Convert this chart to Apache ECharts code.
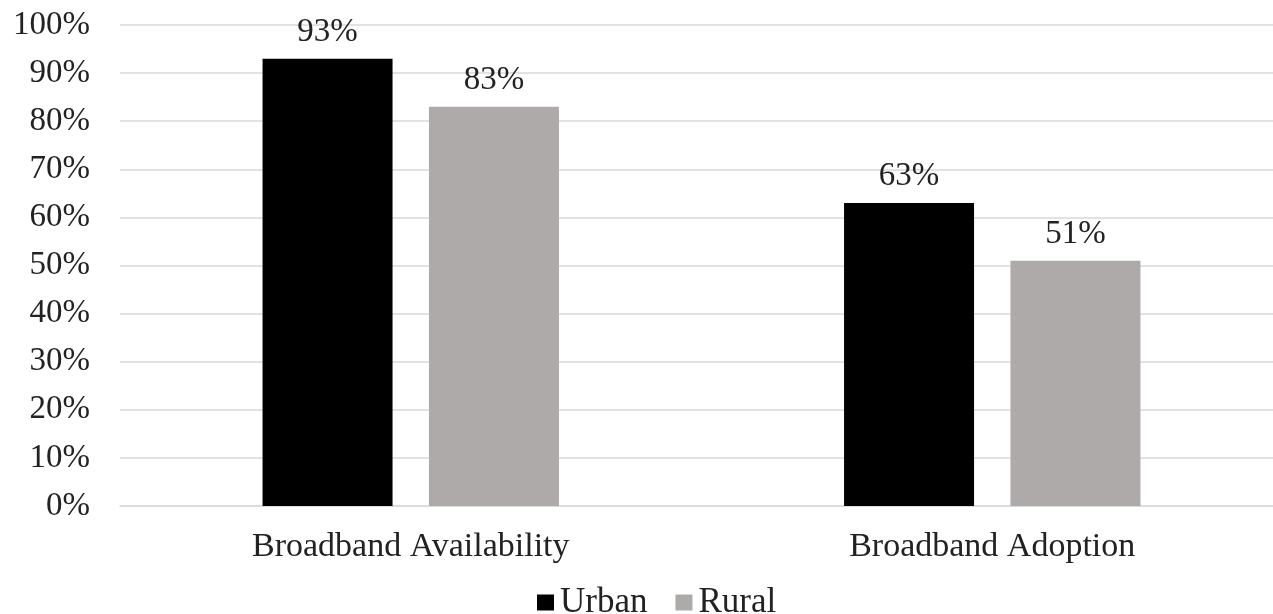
<!DOCTYPE html>
<html>
<head>
<meta charset="utf-8">
<script src="https://cdn.jsdelivr.net/npm/echarts@6/dist/echarts.min.js"></script>
<style>
html,body{margin:0;padding:0;background:#fff;}
#chart{width:1273px;height:614px;}
</style>
</head>
<body>
<div id="chart"></div>
<script>
const categories = ['Broadband Availability', 'Broadband Adoption'];
const urbanValues = [93, 63];
const ruralValues = [83, 51];
const seriesNames = ['Urban', 'Rural'];

const FONT = 'Liberation Serif, Times New Roman, serif';
const chart = echarts.init(document.getElementById('chart'));
chart.setOption({
  animation: false,
  backgroundColor: '#ffffff',
  textStyle: { fontFamily: FONT },
  grid: { left: 120, width: 1163, top: 25, bottom: 108, outerBoundsMode: 'none', containLabel: false },
  legend: {
    data: seriesNames,
    left: 537,
    top: 585,
    padding: 0,
    itemWidth: 17,
    itemHeight: 16,
    itemGap: 28,
    icon: 'rect',
    textStyle: { fontFamily: FONT, fontSize: 35, color: '#222', padding: [0, 0, 0, 1] }
  },
  xAxis: {
    type: 'category',
    data: categories,
    axisLine: { lineStyle: { color: '#d9d9d9', width: 1.5 } },
    axisTick: { show: false },
    axisLabel: { fontFamily: FONT, fontSize: 34, color: '#222', margin: 24 }
  },
  yAxis: {
    type: 'value',
    min: 0,
    max: 100,
    interval: 10,
    axisLine: { show: false },
    axisTick: { show: false },
    splitLine: { lineStyle: { color: '#d9d9d9', width: 1.5 } },
    axisLabel: { fontFamily: FONT, fontSize: 33, color: '#222', margin: 30, formatter: '{value}%' }
  },
  series: [
    {
      name: seriesNames[0],
      type: 'bar',
      data: urbanValues,
      barWidth: 130,
      barGap: '28%',
      itemStyle: { color: '#000000' },
      label: { show: true, position: 'top', distance: 10, formatter: '{c}%', fontFamily: FONT, fontSize: 33, color: '#222' }
    },
    {
      name: seriesNames[1],
      type: 'bar',
      data: ruralValues,
      barWidth: 130,
      barGap: '28%',
      itemStyle: { color: '#aeaaaa' },
      label: { show: true, position: 'top', distance: 10, formatter: '{c}%', fontFamily: FONT, fontSize: 33, color: '#222' }
    }
  ]
});
</script>
</body>
</html>
